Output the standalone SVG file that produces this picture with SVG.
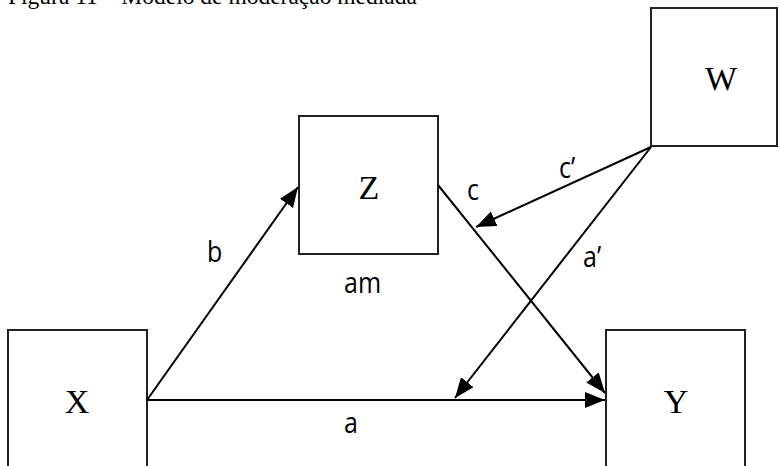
<svg xmlns="http://www.w3.org/2000/svg" width="780" height="466" viewBox="0 0 780 466">
  <defs>
    <marker id="ah" markerUnits="userSpaceOnUse" markerWidth="22" markerHeight="18" refX="20" refY="8" orient="auto">
      <path d="M0,0 L20,8 L0,16 Z" fill="#000"/>
    </marker>
    <style>
      .box { fill: #fff; stroke: #222; stroke-width: 2; }
      .nl { font-family: "Liberation Serif", "Times New Roman", serif; font-size: 34px; fill: #000; text-anchor: middle; }
      .el { font-family: "Open Sans", "DejaVu Sans", sans-serif; font-size: 25px; fill: #000; }
      .cn { fill: none; stroke: #000; stroke-width: 2; marker-end: url(#ah); }
      .cap { font-family: "Liberation Serif", "Times New Roman", serif; font-size: 23.5px; fill: #000; }
    </style>
  </defs>
  <rect width="780" height="466" fill="#fff"/>
  <text class="cap" x="8" y="4">Figura 11 – Modelo de moderação mediada</text>

  <g id="node-X">
    <rect class="box" x="8" y="330" width="139" height="145"/>
    <text class="nl" x="77" y="413">X</text>
  </g>
  <g id="node-Y">
    <rect class="box" x="606" y="330" width="139" height="145"/>
    <text class="nl" x="676" y="413">Y</text>
  </g>
  <g id="node-Z">
    <rect class="box" x="299" y="116" width="139" height="138"/>
    <text class="nl" x="369" y="199">Z</text>
  </g>
  <g id="node-W">
    <rect class="box" x="651" y="8" width="126" height="138"/>
    <text class="nl" x="721" y="90">W</text>
  </g>

  <g id="connectors">
    <line class="cn" x1="147" y1="400" x2="605" y2="400"/>
    <line class="cn" x1="147" y1="400" x2="298" y2="187"/>
    <line class="cn" x1="438" y1="185" x2="605" y2="393"/>
    <line class="cn" x1="651" y1="147" x2="476" y2="227"/>
    <line class="cn" x1="651" y1="147" x2="455" y2="398"/>
  </g>

  <g id="labels">
    <text class="el" transform="translate(207,262) scale(1,1.2)">b</text>
    <text class="el" transform="translate(344,293) scale(1,1.2)">am</text>
    <text class="el" transform="translate(344,433) scale(1,1.2)">a</text>
    <text class="el" transform="translate(467,200) scale(1,1.2)">c</text>
    <text class="el" transform="translate(559,178) scale(1,1.2)">c’</text>
    <text class="el" transform="translate(583,267) scale(1,1.2)">a’</text>
  </g>
</svg>
